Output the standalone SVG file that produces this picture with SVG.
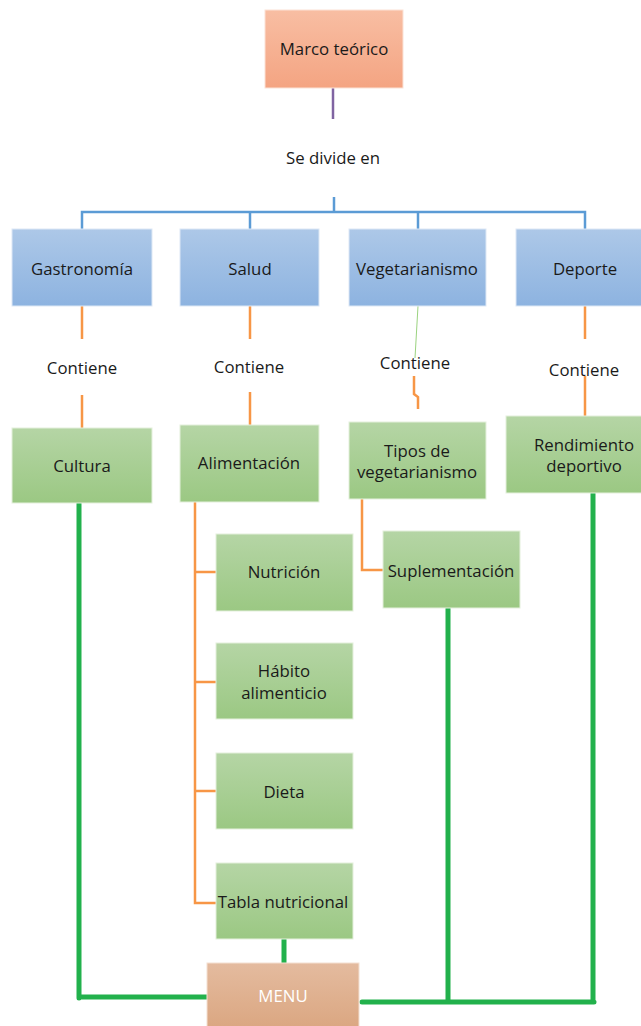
<svg xmlns="http://www.w3.org/2000/svg" width="641" height="1026" viewBox="0 0 641 1026">
<defs>
<linearGradient id="gOr" x1="0" y1="0" x2="0" y2="1"><stop offset="0" stop-color="#f8bea3"/><stop offset="1" stop-color="#f4a482"/></linearGradient>
<linearGradient id="gBl" x1="0" y1="0" x2="0" y2="1"><stop offset="0" stop-color="#adc8e8"/><stop offset="1" stop-color="#8db3e0"/></linearGradient>
<linearGradient id="gGr" x1="0" y1="0" x2="0" y2="1"><stop offset="0" stop-color="#b5d5a5"/><stop offset="1" stop-color="#9bc883"/></linearGradient>
<linearGradient id="gMe" x1="0" y1="0" x2="0" y2="1"><stop offset="0" stop-color="#e4bb9f"/><stop offset="1" stop-color="#daa57f"/></linearGradient>
</defs>
<style>
text{font-family:"Open Sans","Liberation Sans",sans-serif;font-size:16.8px;fill:#1a1a1a;text-anchor:middle}
.or{fill:url(#gOr);stroke:#fbe2d6;stroke-width:1}
.bl{fill:url(#gBl);stroke:#dde8f5;stroke-width:1}
.gr{fill:url(#gGr);stroke:#e4f0dc;stroke-width:1}
.me{fill:url(#gMe);stroke:#f3e0d2;stroke-width:1}
.menu{fill:#ffffff}
.lb{fill:none;stroke:#5b9bd5;stroke-width:2.5}
.lo{fill:none;stroke:#f79646;stroke-width:2.5}
.lp{fill:none;stroke:#8064a2;stroke-width:2.5}
.lt{fill:none;stroke:#9bd37f;stroke-width:1}
.lg{fill:none;stroke:#22b14c;stroke-width:5;stroke-linecap:round;stroke-linejoin:round}
</style>
<rect width="641" height="1026" fill="#ffffff"/>
<g id="connectors">
<path class="lp" d="M333,88 V119"/>
<path class="lb" d="M334,197 V212 M82,229 V212 H585 V229 M250,212 V229 M418,212 V229"/>
<path class="lo" d="M82,306 V339 M82,395 V428"/>
<path class="lo" d="M250,306 V339 M250,392 V425"/>
<path class="lt" d="M418,306 L415,358"/>
<path class="lo" d="M414,376 V394 L418,397 V409"/>
<path class="lo" d="M585,306 V339 M585,376 V416"/>
<path class="lo" d="M195,502 V903 H216 M195,572 H216 M195,682 H216 M195,791 H216"/>
<path class="lo" d="M362,499 V570 H383"/>
<path class="lg" d="M79,503 V998 M79,997 H209"/>
<path class="lg" d="M284,939 V965"/>
<path class="lg" d="M362,1002 H594 M448,608 V1002 M593,492 V1002"/>
</g>
<g id="marco"><rect class="or" x="265" y="10" width="138" height="78"/><text x="334" y="55">Marco teórico</text></g>
<text x="333" y="164">Se divide en</text>
<g id="gastronomia"><rect class="bl" x="12" y="229" width="140" height="77"/><text x="82" y="275">Gastronomía</text></g>
<g id="salud"><rect class="bl" x="180" y="229" width="139" height="77"/><text x="250" y="275">Salud</text></g>
<g id="vegetarianismo"><rect class="bl" x="349" y="229" width="137" height="77"/><text x="417" y="275">Vegetarianismo</text></g>
<g id="deporte"><rect class="bl" x="516" y="229" width="139" height="77"/><text x="585" y="275">Deporte</text></g>
<text x="82" y="374">Contiene</text>
<text x="249" y="373">Contiene</text>
<text x="415" y="369">Contiene</text>
<text x="584" y="376">Contiene</text>
<g id="cultura"><rect class="gr" x="12" y="428" width="140" height="75"/><text x="82" y="472">Cultura</text></g>
<g id="alimentacion"><rect class="gr" x="180" y="425" width="139" height="77"/><text x="249" y="469">Alimentación</text></g>
<g id="tipos"><rect class="gr" x="349" y="422" width="137" height="77"/><text x="417" y="457">Tipos de</text><text x="417" y="478">vegetarianismo</text></g>
<g id="rendimiento"><rect class="gr" x="506" y="416" width="156" height="77"/><text x="584" y="451">Rendimiento</text><text x="584" y="472">deportivo</text></g>
<g id="suplementacion"><rect class="gr" x="383" y="531" width="137" height="77"/><text x="451" y="577">Suplementación</text></g>
<g id="nutricion"><rect class="gr" x="216" y="534" width="137" height="77"/><text x="284" y="578">Nutrición</text></g>
<g id="habito"><rect class="gr" x="216" y="643" width="137" height="76"/><text x="284" y="677">Hábito</text><text x="284" y="699">alimenticio</text></g>
<g id="dieta"><rect class="gr" x="216" y="753" width="137" height="76"/><text x="284" y="798">Dieta</text></g>
<g id="tabla"><rect class="gr" x="216" y="863" width="137" height="76"/><text x="283" y="908">Tabla nutricional</text></g>
<g id="menu"><rect class="me" x="207" y="963" width="152" height="70"/><text class="menu" x="283" y="1002">MENU</text></g>
</svg>
